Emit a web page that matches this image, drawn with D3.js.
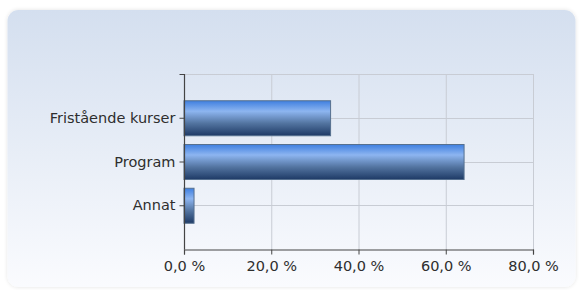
<!DOCTYPE html>
<html><head><meta charset="utf-8">
<script src="https://cdn.jsdelivr.net/npm/d3@7"></script>
<style>html,body{margin:0;padding:0;background:#fff;}svg{display:block;}</style>
</head><body>
<script>
const categories = ["Fristående kurser", "Program", "Annat"];
const values = [33.6, 64.2, 2.3];
const xTicks = [0, 20, 40, 60, 80];
const xTickLabels = ["0,0 %", "20,0 %", "40,0 %", "60,0 %", "80,0 %"];

const W = 580, H = 290;
const svg = d3.select("body").append("svg").attr("width", W).attr("height", H);
const defs = svg.append("defs");

const bg = defs.append("linearGradient").attr("id","bg").attr("x1",0).attr("y1",0).attr("x2",0).attr("y2",1);
bg.append("stop").attr("offset","0%").attr("stop-color","#d4dfef");
bg.append("stop").attr("offset","100%").attr("stop-color","#fafbfe");

const bar = defs.append("linearGradient").attr("id","bar").attr("x1",0).attr("y1",0).attr("x2",0).attr("y2",1);
bar.append("stop").attr("offset","0%").attr("stop-color","#3f7fe0");
bar.append("stop").attr("offset","30%").attr("stop-color","#8db5f0");
bar.append("stop").attr("offset","65%").attr("stop-color","#52739f");
bar.append("stop").attr("offset","100%").attr("stop-color","#1e3a66");

const sh = defs.append("filter").attr("id","sh").attr("x","-5%").attr("y","-5%").attr("width","110%").attr("height","110%");
sh.append("feGaussianBlur").attr("in","SourceAlpha").attr("stdDeviation",2);
sh.append("feOffset").attr("dx",0).attr("dy",0).attr("result","b");
sh.append("feComponentTransfer").append("feFuncA").attr("type","linear").attr("slope",0.12);
const mg = sh.append("feMerge"); mg.append("feMergeNode"); mg.append("feMergeNode").attr("in","SourceGraphic");

svg.append("rect").attr("x",7.5).attr("y",10).attr("width",568).attr("height",277)
  .attr("rx",11).attr("fill","url(#bg)").attr("filter","url(#sh)");

const x = d3.scaleLinear().domain([0, 80]).range([184, 533]);
const y = d3.scalePoint().domain(categories).range([74, 249]).padding(1);
const bh = y.step() * 0.8;

const g = svg.append("g");
// vertical grid
g.selectAll(".vg").data(xTicks.slice(1)).join("line")
  .attr("x1", d => x(d) + 0.5).attr("x2", d => x(d) + 0.5)
  .attr("y1", 74).attr("y2", 249).attr("stroke", "#c8ccd4").attr("stroke-width", 1);
// horizontal grid
const hg = [74].concat(categories.map(c => y(c)));
g.selectAll(".hg").data(hg).join("line")
  .attr("x1", 184).attr("x2", 533).attr("y1", d => Math.round(d) + 0.5).attr("y2", d => Math.round(d) + 0.5)
  .attr("stroke", "#c8ccd4").attr("stroke-width", 1);

// bars
g.selectAll(".bar").data(categories).join("rect")
  .attr("x", x(0)).attr("y", d => y(d) - bh / 2 + 0.5)
  .attr("width", (d, i) => x(values[i]) - x(0)).attr("height", bh)
  .attr("fill", "url(#bar)").attr("stroke", "#56708f").attr("stroke-width", 1);

// axes
const font = "Verdana, 'DejaVu Sans', sans-serif";
const xAxis = d3.axisBottom(x).tickValues(xTicks).tickFormat((d, i) => xTickLabels[i]).tickSizeOuter(0).tickSize(5).tickPadding(6);
const xa = svg.append("g").attr("transform", "translate(0,249.5)").call(xAxis);
const yAxis = d3.axisLeft(y).tickSizeOuter(0).tickSize(5).tickPadding(4);
const ya = svg.append("g").attr("transform", "translate(184.5,0)").call(yAxis);
ya.select(".domain").attr("d", "M-5,74.5H0V249.5");
[xa, ya].forEach(a => {
  a.select(".domain").attr("stroke", "#444").attr("stroke-width", 1.2);
  a.selectAll(".tick line").attr("stroke", "#444");
  a.selectAll("text").attr("fill", "#2e2e2e").style("font-family", font).style("font-size", "14.5px");
});
</script>
</body></html>
